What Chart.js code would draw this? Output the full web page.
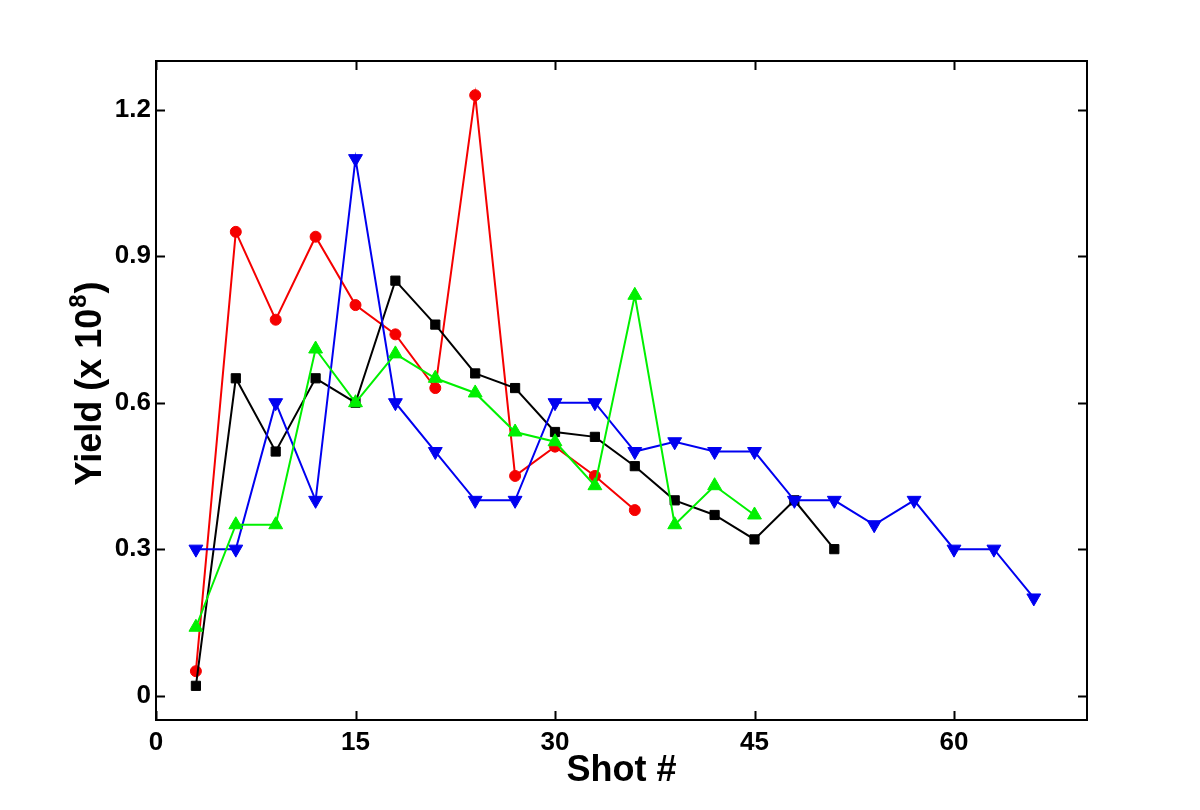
<!DOCTYPE html>
<html>
<head>
<meta charset="utf-8">
<script src="https://cdn.jsdelivr.net/npm/chart.js@4.4.0/dist/chart.umd.min.js"></script>
<style>
html,body{margin:0;padding:0;background:#fff;}
canvas{display:block;}
</style>
</head>
<body>
<canvas id="c" width="1200" height="810"></canvas>
<script>
// ---- data ----
const xTicks = [0, 15, 30, 45, 60];
const yTicks = [0, 0.3, 0.6, 0.9, 1.2];
const xTitle = "Shot #";
const yTitleMain = "Yield (x 10";
const yTitleSup = "8";
const yTitleEnd = ")";

const redShots   = [3, 6, 9, 12, 15, 18, 21, 24, 27, 30, 33, 36];
const redYield   = [0.05, 0.95, 0.77, 0.94, 0.80, 0.74, 0.63, 1.23, 0.45, 0.51, 0.45, 0.38];

const blackShots = [3, 6, 9, 12, 15, 18, 21, 24, 27, 30, 33, 36, 39, 42, 45, 48, 51];
const blackYield = [0.02, 0.65, 0.50, 0.65, 0.60, 0.85, 0.76, 0.66, 0.63, 0.54, 0.53, 0.47, 0.40, 0.37, 0.32, 0.40, 0.30];

const blueShots  = [3, 6, 9, 12, 15, 18, 21, 24, 27, 30, 33, 36, 39, 42, 45, 48, 51, 54, 57, 60, 63, 66];
const blueYield  = [0.30, 0.30, 0.60, 0.40, 1.10, 0.60, 0.50, 0.40, 0.40, 0.60, 0.60, 0.50, 0.52, 0.50, 0.50, 0.40, 0.40, 0.35, 0.40, 0.30, 0.30, 0.20];

const greenShots = [3, 6, 9, 12, 15, 18, 21, 24, 27, 30, 33, 36, 39, 42, 45];
const greenYield = [0.14, 0.35, 0.35, 0.71, 0.60, 0.70, 0.65, 0.62, 0.54, 0.52, 0.43, 0.82, 0.35, 0.43, 0.37];

function pts(xs, ys) { return xs.map((x, i) => ({ x: x, y: ys[i] })); }

const FONT = "'Liberation Sans', Arial, Helvetica, sans-serif";

const framePlugin = {
  id: 'frame',
  afterDraw(chart) {
    const ctx = chart.ctx;
    const a = chart.chartArea;
    const xs = chart.scales.x, ys = chart.scales.y;
    ctx.save();
    ctx.strokeStyle = '#000';
    ctx.lineWidth = 2;
    ctx.strokeRect(a.left, a.top, a.right - a.left, a.bottom - a.top);
    const tl = 9;
    ctx.beginPath();
    xTicks.forEach(v => {
      const px = Math.round(xs.getPixelForValue(v)) + 0.5;
      ctx.moveTo(px, a.bottom); ctx.lineTo(px, a.bottom - tl);
      ctx.moveTo(px, a.top); ctx.lineTo(px, a.top + tl);
    });
    yTicks.forEach(v => {
      const py = Math.round(ys.getPixelForValue(v)) + 0.5;
      ctx.moveTo(a.left, py); ctx.lineTo(a.left + tl, py);
      ctx.moveTo(a.right, py); ctx.lineTo(a.right - tl, py);
    });
    ctx.stroke();

    // y-axis title with superscript
    ctx.fillStyle = '#000';
    ctx.textBaseline = 'alphabetic';
    ctx.textAlign = 'left';
    const big = "bold 36px " + FONT, small = "bold 24px " + FONT;
    ctx.font = big; const w1 = ctx.measureText(yTitleMain).width;
    ctx.font = small; const w2 = ctx.measureText(yTitleSup).width;
    ctx.font = big; const w3 = ctx.measureText(yTitleEnd).width;
    const total = w1 + w2 + w3;
    const cy = (a.top + a.bottom) / 2 - 6;
    ctx.translate(101, cy + total / 2);
    ctx.rotate(-Math.PI / 2);
    ctx.font = big; ctx.fillText(yTitleMain, 0, 0);
    ctx.font = small; ctx.fillText(yTitleSup, w1 + 1, -15);
    ctx.font = big; ctx.fillText(yTitleEnd, w1 + w2 + 2, 0);
    ctx.restore();
  }
};

const common = { borderWidth: 2, pointBorderWidth: 1, fill: false, tension: 0 };

new Chart(document.getElementById('c'), {
  type: 'line',
  data: {
    datasets: [
      Object.assign({ label: 'green', data: pts(greenShots, greenYield), borderColor: '#00f000', backgroundColor: '#00f000',
        pointStyle: 'triangle', pointRadius: 8, pointHoverRadius: 8, order: 1 }, common),
      Object.assign({ label: 'blue', data: pts(blueShots, blueYield), borderColor: '#0000f0', backgroundColor: '#0000f0',
        pointStyle: 'triangle', pointRotation: 180, pointRadius: 8, pointHoverRadius: 8, order: 2 }, common),
      Object.assign({ label: 'black', data: pts(blackShots, blackYield), borderColor: '#000000', backgroundColor: '#000000',
        pointStyle: 'rect', pointRadius: 6.5, pointHoverRadius: 6.5, order: 3 }, common),
      Object.assign({ label: 'red', data: pts(redShots, redYield), borderColor: '#f50000', backgroundColor: '#f50000',
        pointStyle: 'circle', pointRadius: 5.5, pointHoverRadius: 5.5, order: 4 }, common)
    ]
  },
  options: {
    responsive: false,
    animation: false,
    devicePixelRatio: 1,
    events: [],
    layout: { padding: { top: 61, right: 113, left: 0, bottom: 0 } },
    plugins: { legend: { display: false }, tooltip: { enabled: false } },
    scales: {
      x: {
        type: 'linear', min: 0, max: 70,
        afterBuildTicks: s => { s.ticks = xTicks.map(v => ({ value: v })); },
        afterFit: s => { s.height = 90; },
        grid: { display: false, drawTicks: false },
        border: { display: false },
        ticks: { color: '#000', font: { family: FONT, size: 26, weight: 'bold' }, padding: 7, maxRotation: 0,
          callback: v => String(v) },
        title: { display: true, text: xTitle, color: '#000', font: { family: FONT, size: 36, weight: 'bold', lineHeight: 1 },
          padding: { top: 0, bottom: 21 } }
      },
      y: {
        type: 'linear', min: -0.05, max: 1.3,
        afterBuildTicks: s => { s.ticks = yTicks.map(v => ({ value: v })); },
        afterFit: s => { s.width = 156; },
        grid: { display: false, drawTicks: false },
        border: { display: false },
        ticks: { color: '#000', font: { family: FONT, size: 26, weight: 'bold' }, padding: 5,
          callback: v => (v === 0 ? '0' : v.toFixed(1)) }
      }
    }
  },
  plugins: [framePlugin]
});
</script>
</body>
</html>
